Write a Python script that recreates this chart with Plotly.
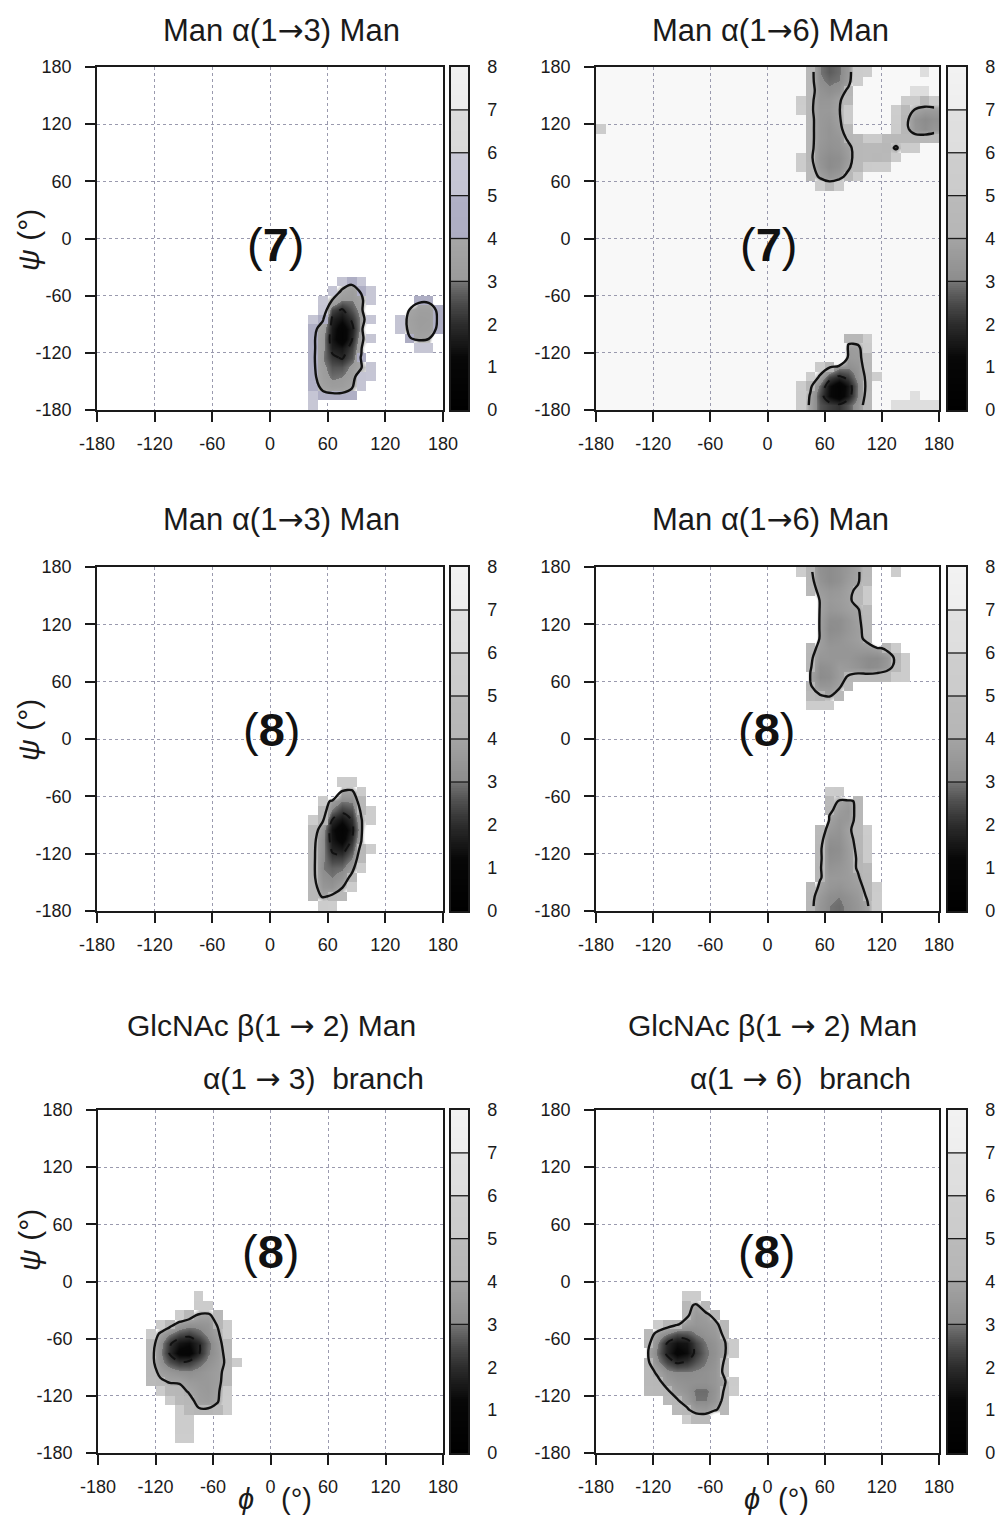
import numpy as np
import plotly.graph_objects as go

# ---------------------------------------------------------------------------
# Free-energy maps (kcal/mol) on a 10 degree (phi, psi) grid.
# Each row: (psi bin centre, phi centre of the first bin, energies along phi)
# Bins that were never visited are left out (drawn blank).
# ---------------------------------------------------------------------------
PHI_CENTRES = np.arange(-175, 180, 10)
PSI_CENTRES = np.arange(-175, 180, 10)
AXIS_TICKS = [-180, -120, -60, 0, 60, 120, 180]
AXIS_TICKTEXT = ["-180", "-120", "-60", "0", "60", "120", "180"]
CB_TICKS = [0, 1, 2, 3, 4, 5, 6, 7, 8]
CB_BANDS = [3, 4, 5, 6, 7]
SOLID_LEVEL = 4.0
DASHED_LEVEL = 2.0

# Man a(1->3) Man, structure 7
MAN13_7 = [
    (-45, 75, [5.0, 4.4, 5.6]),
    (-55, 65, [5.2, 3.8, 3.3, 4.2, 5.8]),
    (-65, 55, [5.4, 3.9, 3.0, 3.0, 3.6, 5.8]),
    (-75, 55, [5.0, 2.4, 1.9, 2.6, 3.3]),
    (-85, 45, [5.2, 4.1, 1.8, 1.4, 2.1, 3.2, 5.6]),
    (-95, 45, [4.3, 3.5, 1.6, 0.8, 1.7, 3.3]),
    (-105, 45, [4.2, 3.2, 1.5, 0.7, 1.9, 3.6, 5.4]),
    (-115, 45, [4.2, 3.2, 1.7, 1.5, 2.3, 3.8]),
    (-125, 45, [4.2, 3.0, 2.2, 1.9, 2.6, 4.1]),
    (-135, 45, [4.2, 3.2, 2.6, 2.6, 3.2, 3.9, 5.4]),
    (-145, 45, [4.3, 3.3, 2.9, 3.0, 3.4, 5.0, 5.6]),
    (-155, 45, [4.6, 3.6, 3.2, 3.3, 3.8, 5.2]),
    (-165, 45, [5.2, 4.4, 4.3, 4.3, 4.6]),
    (-175, 45, [5.8]),
    (-65, 155, [4.2, 4.2]),
    (-75, 145, [3.9, 3.4, 3.4, 4.2]),
    (-85, 135, [5.0, 3.6, 3.2, 3.3, 4.1]),
    (-95, 135, [5.0, 3.7, 3.3, 3.4, 4.2]),
    (-105, 145, [4.1, 3.7, 3.9]),
    (-115, 155, [5.4, 5.4]),
]

# Man a(1->6) Man, structure 7
MAN16_7 = [
    (175, 45, [4.5, 3.0, 2.7, 2.9, 3.5, 5.4, 5.6]),
    (175, 165, [6.2]),
    (165, 45, [4.5, 3.1, 2.9, 3.0, 3.6, 5.6]),
    (155, 45, [4.6, 3.3, 3.1, 3.3, 4.3]),
    (155, 155, [6.0, 6.0]),
    (145, 35, [5.4, 4.3, 3.4, 3.4, 3.8, 4.8]),
    (145, 145, [5.4, 5.0, 4.8, 5.2]),
    (135, 35, [5.5, 4.2, 3.5, 3.5, 3.9, 5.0]),
    (135, 135, [5.6, 4.8, 3.9, 3.6, 3.6]),
    (125, 45, [4.3, 3.5, 3.4, 3.8, 5.0]),
    (125, 135, [5.4, 4.3, 3.3, 3.0, 3.2]),
    (115, -175, [5.4]),
    (115, 45, [4.3, 3.5, 3.3, 3.6, 4.8]),
    (115, 135, [5.0, 4.3, 3.4, 3.1, 3.4]),
    (105, 45, [4.3, 3.5, 3.3, 3.4, 4.2, 4.8, 5.0, 5.0, 4.9, 4.7, 4.7, 4.5, 4.6, 4.8]),
    (95, 45, [4.3, 3.4, 3.2, 3.3, 3.7, 4.6, 4.8, 4.7, 4.6, 3.8, 5.0, 5.3]),
    (85, 35, [5.4, 4.2, 3.3, 3.0, 3.1, 3.6, 4.6, 4.8, 4.6, 4.8, 5.2]),
    (75, 35, [5.4, 4.4, 3.4, 3.0, 3.2, 3.8, 4.8, 5.0, 5.2, 5.4]),
    (65, 45, [4.8, 3.8, 3.4, 3.6, 4.4, 5.0]),
    (55, 55, [5.0, 4.6, 5.0]),
    (-105, 85, [4.6, 4.6, 5.6]),
    (-115, 85, [3.6, 3.7, 5.0]),
    (-125, 85, [3.5, 3.6, 4.8]),
    (-135, 55, [5.0, 4.1, 3.2, 3.1, 3.4, 4.6]),
    (-145, 45, [5.5, 3.8, 2.4, 1.9, 2.3, 3.3, 4.3, 5.6]),
    (-155, 35, [5.2, 4.2, 2.8, 1.4, 0.6, 1.5, 3.0, 4.3]),
    (-165, 35, [5.0, 3.9, 2.4, 1.3, 0.7, 1.6, 3.1, 4.4]),
    (-165, 155, [6.3]),
    (-175, 35, [5.0, 3.8, 2.6, 2.3, 2.1, 2.6, 3.4, 4.6]),
    (-175, 135, [6.2, 6.2, 6.2, 6.2, 6.2]),
]

# Man a(1->3) Man, structure 8
MAN13_8 = [
    (-45, 75, [5.2, 5.2]),
    (-55, 75, [3.9, 3.8, 5.0]),
    (-65, 55, [5.0, 3.6, 3.0, 3.1, 4.6]),
    (-75, 55, [4.6, 2.9, 2.2, 2.5, 4.2, 5.6]),
    (-85, 45, [5.2, 4.1, 1.9, 1.4, 2.0, 3.9, 5.6]),
    (-95, 45, [4.6, 3.4, 1.4, 0.7, 1.7, 3.6]),
    (-105, 45, [4.3, 3.2, 1.5, 0.9, 2.0, 3.9]),
    (-115, 45, [4.2, 3.2, 1.8, 1.6, 2.5, 4.4, 5.6]),
    (-125, 45, [4.2, 3.1, 2.3, 2.3, 3.0, 4.8]),
    (-135, 45, [4.2, 3.0, 2.8, 2.9, 3.6, 5.2]),
    (-145, 45, [4.2, 3.2, 3.0, 3.3, 4.3]),
    (-155, 45, [4.4, 3.4, 3.3, 3.9, 5.2]),
    (-165, 45, [4.6, 3.9, 4.2, 4.8]),
    (-175, 55, [5.4, 5.6]),
]

# Man a(1->6) Man, structure 8
MAN16_8 = [
    (175, 35, [5.6, 4.2, 3.2, 3.0, 3.2, 3.5, 3.9, 4.6]),
    (175, 135, [5.8]),
    (165, 45, [4.4, 3.3, 3.0, 3.2, 3.6, 3.9, 4.8]),
    (155, 45, [4.8, 3.6, 3.4, 3.5, 3.8, 4.2, 5.0]),
    (145, 55, [3.8, 3.5, 3.6, 3.8, 4.4, 5.0]),
    (135, 55, [3.8, 3.4, 3.5, 3.7, 3.9, 4.8]),
    (125, 55, [3.7, 3.1, 3.1, 3.4, 3.8, 4.6]),
    (115, 55, [3.7, 3.0, 3.1, 3.4, 3.7, 4.5]),
    (105, 55, [3.7, 3.2, 3.3, 3.5, 3.7, 4.3]),
    (95, 45, [4.6, 3.6, 3.4, 3.4, 3.4, 3.5, 3.6, 3.8, 4.2, 5.0]),
    (85, 45, [4.2, 3.4, 3.4, 3.4, 3.4, 3.2, 3.0, 3.0, 3.4, 4.2, 5.2]),
    (75, 45, [4.1, 3.1, 3.2, 3.6, 3.5, 3.3, 3.0, 3.1, 3.5, 4.4, 5.2]),
    (65, 45, [3.9, 3.0, 3.1, 3.6, 4.1, 4.4, 4.5, 4.6, 4.8, 5.0, 5.2]),
    (55, 45, [4.1, 3.4, 3.4, 3.8, 4.8]),
    (45, 45, [4.8, 4.1, 3.9, 4.6]),
    (35, 45, [5.4, 5.2, 5.2]),
    (-55, 65, [5.4, 5.0]),
    (-65, 65, [4.8, 3.9, 3.6, 4.4]),
    (-75, 65, [4.2, 3.6, 3.4, 4.4]),
    (-85, 65, [3.8, 3.4, 3.5, 4.4]),
    (-95, 55, [4.8, 3.5, 3.3, 3.8, 4.5, 5.2]),
    (-105, 55, [4.4, 3.2, 3.2, 3.7, 4.3, 5.0]),
    (-115, 55, [4.2, 3.0, 3.1, 3.6, 4.2, 5.0]),
    (-125, 55, [4.2, 3.1, 3.2, 3.6, 4.1, 5.0]),
    (-135, 55, [4.1, 3.3, 3.4, 3.6, 4.1, 4.8]),
    (-145, 55, [4.1, 3.5, 3.5, 3.6, 3.9, 4.6]),
    (-155, 45, [4.8, 3.8, 3.4, 3.3, 3.5, 3.7, 4.3, 5.0]),
    (-165, 45, [4.4, 3.5, 3.1, 3.0, 3.2, 3.5, 4.1, 5.2]),
    (-175, 45, [4.3, 3.4, 3.0, 2.9, 3.1, 3.4, 3.9, 5.2]),
]

# GlcNAc b(1->2) Man, a(1->3) branch, structure 8
GLC13_8 = [
    (-15, -75, [5.6]),
    (-25, -75, [5.2, 5.4]),
    (-35, -95, [5.2, 4.6, 3.9, 3.8, 4.6]),
    (-45, -115, [5.2, 4.4, 3.6, 3.3, 3.3, 3.4, 4.1, 5.0]),
    (-55, -125, [5.0, 3.8, 3.0, 2.5, 2.3, 2.7, 3.2, 3.8, 5.0]),
    (-65, -125, [4.6, 3.3, 2.1, 1.5, 1.3, 1.9, 2.8, 3.6, 4.6]),
    (-75, -125, [4.4, 3.2, 1.9, 1.0, 0.9, 1.9, 2.9, 3.5, 4.4]),
    (-85, -125, [4.4, 3.3, 2.5, 2.1, 2.2, 2.7, 3.2, 3.6, 4.2, 5.2]),
    (-95, -125, [4.6, 3.7, 3.4, 3.2, 3.1, 3.3, 3.5, 3.7, 4.4]),
    (-105, -125, [4.8, 4.2, 3.9, 3.9, 3.6, 3.5, 3.5, 3.7, 4.6]),
    (-115, -115, [5.0, 4.6, 4.3, 3.9, 3.6, 3.5, 3.8, 5.0]),
    (-125, -105, [5.0, 4.8, 4.3, 3.7, 3.6, 3.9, 5.2]),
    (-135, -95, [5.2, 4.8, 4.1, 4.1, 4.4, 5.4]),
    (-145, -95, [5.4, 5.2]),
    (-155, -95, [5.4, 5.4]),
    (-165, -95, [5.6, 5.6]),
]

# GlcNAc b(1->2) Man, a(1->6) branch, structure 8
GLC16_8 = [
    (-15, -85, [5.4, 5.4]),
    (-25, -85, [4.4, 3.8, 4.8]),
    (-35, -85, [4.2, 3.5, 3.7, 4.4]),
    (-45, -115, [5.0, 4.5, 4.1, 3.6, 3.4, 3.5, 3.7, 4.6]),
    (-55, -125, [4.6, 3.6, 3.0, 2.5, 2.6, 3.0, 3.3, 3.5, 4.2]),
    (-65, -125, [4.2, 3.0, 1.9, 1.4, 1.5, 2.4, 3.0, 3.3, 3.9, 5.0]),
    (-75, -125, [3.9, 2.8, 1.8, 1.0, 1.3, 2.2, 2.9, 3.2, 3.9, 5.0]),
    (-85, -125, [4.1, 3.1, 2.4, 1.9, 2.1, 2.6, 3.0, 3.3, 4.1]),
    (-95, -125, [4.4, 3.8, 3.2, 3.0, 3.0, 3.1, 3.2, 3.4, 4.2]),
    (-105, -125, [4.6, 4.2, 3.6, 3.3, 3.2, 3.2, 3.2, 3.4, 3.9, 5.0]),
    (-115, -125, [4.8, 4.6, 4.1, 3.6, 3.3, 2.9, 2.9, 3.3, 4.1, 5.2]),
    (-125, -105, [4.8, 4.1, 3.6, 3.0, 3.0, 3.4, 4.3]),
    (-135, -95, [4.8, 4.2, 3.6, 3.5, 3.9, 4.6]),
    (-145, -85, [5.4, 4.8, 4.8]),
]

ARROW = "<span style=\"font-family:'DejaVu Sans'\">→</span>"
TITLES = ["Man α(1" + ARROW + "3) Man", "Man α(1" + ARROW + "6) Man",
          "Man α(1" + ARROW + "3) Man", "Man α(1" + ARROW + "6) Man",
          "GlcNAc β(1 " + ARROW + " 2) Man", "GlcNAc β(1 " + ARROW + " 2) Man"]
SUBTITLES = [None, None, None, None,
             "α(1 " + ARROW + " 3)\u00a0\u00a0branch", "α(1 " + ARROW + " 6)\u00a0\u00a0branch"]
STRUCTURES = ["7", "7", "8", "8", "8", "8"]

# ---------------------------------------------------------------------------
# Colour scales: continuous below 3 kcal/mol, 1 kcal/mol bands above
# ---------------------------------------------------------------------------
GRAY_STOPS = [
    (0.0, "#000000"), (1.2, "#070707"), (2.0, "#2c2c2c"), (2.5, "#4c4c4c"),
    (3.0, "#747474"), (3.0, "#8c8c8c"), (4.0, "#a4a4a4"),
    (4.0, "#b6b6b6"), (5.0, "#bababa"),
    (5.0, "#cbcbcb"), (6.0, "#cecece"),
    (6.0, "#dedede"), (7.0, "#e0e0e0"),
    (7.0, "#eeeeee"), (8.0, "#f2f2f2"),
]
LAVENDER_STOPS = [
    (0.0, "#000000"), (1.2, "#070707"), (2.0, "#2c2c2c"), (2.5, "#4c4c4c"),
    (3.0, "#747474"), (3.0, "#9a9a9a"), (4.0, "#a6a6a6"),
    (4.0, "#adadc3"), (5.0, "#b0b0c6"),
    (5.0, "#c4c4d3"), (6.0, "#c8c8d6"),
    (6.0, "#d9d9d9"), (7.0, "#dcdcdc"),
    (7.0, "#ececec"), (8.0, "#f0f0f0"),
]
# Basin interiors are shaded continuously; above the solid level they fade out
SMOOTH_TAIL = [(5.0, "rgba(200,200,200,0.55)"), (6.0, "rgba(255,255,255,0)"),
               (8.0, "rgba(255,255,255,0)")]


def colorscale(stops):
    return [[v / 8.0, c] for v, c in stops]


def smooth_colorscale(stops):
    inner = [(v, c) for v, c in stops if v < SOLID_LEVEL]
    inner.append((SOLID_LEVEL, "#a6a6a6"))
    return colorscale(inner + SMOOTH_TAIL)


def to_grid(rows):
    z = np.full((len(PSI_CENTRES), len(PHI_CENTRES)), np.nan)
    for psi, phi0, vals in rows:
        i = int(round((psi - PSI_CENTRES[0]) / 10))
        j0 = int(round((phi0 - PHI_CENTRES[0]) / 10))
        for k, v in enumerate(vals):
            z[i, j0 + k] = v
    return z


MAPS = [MAN13_7, MAN16_7, MAN13_8, MAN16_8, GLC13_8, GLC16_8]
SCALES = [LAVENDER_STOPS, GRAY_STOPS, GRAY_STOPS, GRAY_STOPS, GRAY_STOPS, GRAY_STOPS]

# ---------------------------------------------------------------------------
# Page geometry (pixels)
# ---------------------------------------------------------------------------
W, H = 997, 1519
PLOT_BOXES = [(97, 443, 67, 410), (596, 939, 67, 410),
              (97, 443, 567, 911), (596, 939, 567, 911),
              (98, 443, 1110, 1453), (596, 939, 1110, 1453)]
CB_X = [(451, 468), (948, 966)]
TITLE_POS = [(281, 30), (770, 30), (281, 519), (770, 519), (271, 1025), (772, 1025)]
SUB_POS = [None, None, None, None, (313, 1078), (800, 1078)]
LABEL_POS = [(275, 245), (768, 245), (271, 730), (766, 730), (270, 1251), (766, 1251)]
PSI_TITLE_POS = [(29, 240), (29, 730), (29, 1240)]
# (text, x, y): the phi symbol and its unit sit either side of the 0 tick
PHI_TITLE_PARTS = [("<i>ϕ</i>", 246, 1499), ("(°)", 296, 1499),
                   ("<i>ϕ</i>", 752, 1499), ("(°)", 793, 1499)]

FONT = "Liberation Sans, Arial, Helvetica, sans-serif"
INK = "#1a1a1a"


def px(x):
    return x / W


def py(y):
    return 1 - y / H


fig = go.Figure()
layout = dict(width=W, height=H, margin=dict(l=0, r=0, t=0, b=0, autoexpand=False),
              paper_bgcolor="white", plot_bgcolor="white",
              showlegend=False, font=dict(family=FONT, color=INK, size=18))
annotations = []
shapes = []

cb_edges = np.linspace(0, 8, 161)
cb_mid = (cb_edges[:-1] + cb_edges[1:]) / 2

for k in range(6):
    n = k + 1
    cbn = k + 7
    xa, ya = ("x", "y") if n == 1 else (f"x{n}", f"y{n}")
    cxa, cya = f"x{cbn}", f"y{cbn}"
    x0, x1, y0, y1 = PLOT_BOXES[k]
    cs = colorscale(SCALES[k])
    z = to_grid(MAPS[k])
    zc = np.where(np.isnan(z), 9.0, z)
    z_outer = np.where(z >= SOLID_LEVEL, z, np.nan)

    # continuous shading of the low-energy interior
    fig.add_trace(go.Heatmap(x=PHI_CENTRES, y=PSI_CENTRES, z=zc,
                             colorscale=smooth_colorscale(SCALES[k]),
                             zmin=0, zmax=8, zsmooth="best", showscale=False,
                             hoverinfo="skip", xaxis=xa, yaxis=ya))
    # sparsely sampled high-energy bins as plain blocks
    fig.add_trace(go.Heatmap(x=PHI_CENTRES, y=PSI_CENTRES, z=z_outer, colorscale=cs,
                             zmin=0, zmax=8, zsmooth=False, showscale=False,
                             hoverinfo="skip", xaxis=xa, yaxis=ya))
    fig.add_trace(go.Contour(x=PHI_CENTRES, y=PSI_CENTRES, z=zc, autocontour=False,
                             contours=dict(start=SOLID_LEVEL, end=SOLID_LEVEL, size=1,
                                           coloring="none"),
                             line=dict(color="#111111", width=2.4, smoothing=1.0),
                             showscale=False, hoverinfo="skip", xaxis=xa, yaxis=ya))
    fig.add_trace(go.Contour(x=PHI_CENTRES, y=PSI_CENTRES, z=zc, autocontour=False,
                             contours=dict(start=DASHED_LEVEL, end=DASHED_LEVEL, size=1,
                                           coloring="none"),
                             line=dict(color="#111111", width=2.0, dash="dash", smoothing=1.0),
                             showscale=False, hoverinfo="skip", xaxis=xa, yaxis=ya))

    axis_common = dict(range=[-180, 180], tickvals=AXIS_TICKS, ticktext=AXIS_TICKTEXT,
                       ticks="outside", ticklen=10, tickwidth=1.5, tickcolor=INK,
                       showline=True, mirror=True, linecolor=INK, linewidth=1.8,
                       showgrid=True, gridcolor="#9a9aae", griddash="dot", gridwidth=1,
                       zeroline=False, automargin=False,
                       tickfont=dict(size=18, family=FONT, color=INK))
    layout["xaxis" if n == 1 else f"xaxis{n}"] = dict(
        axis_common, domain=[px(x0), px(x1)], anchor=ya, ticklabelstandoff=6)
    layout["yaxis" if n == 1 else f"yaxis{n}"] = dict(
        axis_common, domain=[py(y1), py(y0)], anchor=xa, ticklabelstandoff=10)

    # colour bar drawn as its own small axis
    cx0, cx1 = CB_X[k % 2]
    fig.add_trace(go.Heatmap(x=[0, 1], y=cb_edges, z=[[m] for m in cb_mid], colorscale=cs,
                             zmin=0, zmax=8, zsmooth=False, showscale=False,
                             hoverinfo="skip", xaxis=cxa, yaxis=cya))
    layout[f"xaxis{cbn}"] = dict(domain=[px(cx0), px(cx1)], anchor=cya, range=[0, 1],
                                 showticklabels=False, ticks="", showgrid=False,
                                 zeroline=False, showline=True, mirror=True,
                                 linecolor=INK, linewidth=1.5, automargin=False)
    layout[f"yaxis{cbn}"] = dict(domain=[py(y1), py(y0)], anchor=cxa, range=[0, 8],
                                 side="right", tickvals=CB_TICKS, ticks="",
                                 showgrid=False, zeroline=False, showline=True,
                                 mirror=True, linecolor=INK, linewidth=1.5,
                                 ticklabelstandoff=14, automargin=False,
                                 tickfont=dict(size=18, family=FONT, color=INK))
    for lev in CB_BANDS:
        shapes.append(dict(type="line", xref=cxa, yref=cya, x0=0, x1=1, y0=lev, y1=lev,
                           line=dict(color=INK, width=1.3)))

    tx, ty = TITLE_POS[k]
    annotations.append(dict(text=TITLES[k], x=px(tx), y=py(ty), xref="paper", yref="paper",
                            showarrow=False, xanchor="center", yanchor="middle",
                            font=dict(size=31 if n <= 4 else 30, family=FONT, color=INK)))
    if SUBTITLES[k]:
        sx, sy = SUB_POS[k]
        annotations.append(dict(text=SUBTITLES[k], x=px(sx), y=py(sy), xref="paper",
                                yref="paper", showarrow=False, xanchor="center",
                                yanchor="middle", font=dict(size=30, family=FONT, color=INK)))
    lx, ly = LABEL_POS[k]
    annotations.append(dict(text="(<b>" + STRUCTURES[k] + "</b>)", x=px(lx), y=py(ly),
                            xref="paper", yref="paper", showarrow=False,
                            xanchor="center", yanchor="middle",
                            font=dict(size=47, family=FONT, color="#111111")))

# faint background of the sampled area in the a(1->6) map of structure 7
shapes.append(dict(type="rect", xref="x2 domain", yref="y2 domain", x0=0, x1=1, y0=0, y1=1,
                   fillcolor="#f8f8f8", line=dict(width=0), layer="below"))

for ax, ay in PSI_TITLE_POS:
    annotations.append(dict(text="<i>ψ</i> (°)", x=px(ax), y=py(ay), xref="paper",
                            yref="paper", showarrow=False, textangle=-90,
                            xanchor="center", yanchor="middle",
                            font=dict(size=30, family=FONT, color=INK)))
for txt, ax, ay in PHI_TITLE_PARTS:
    annotations.append(dict(text=txt, x=px(ax), y=py(ay), xref="paper",
                            yref="paper", showarrow=False, xanchor="center",
                            yanchor="middle", font=dict(size=29, family=FONT, color=INK)))

layout["annotations"] = annotations
layout["shapes"] = shapes
fig.update_layout(**layout)
fig.write_html("out.html")
